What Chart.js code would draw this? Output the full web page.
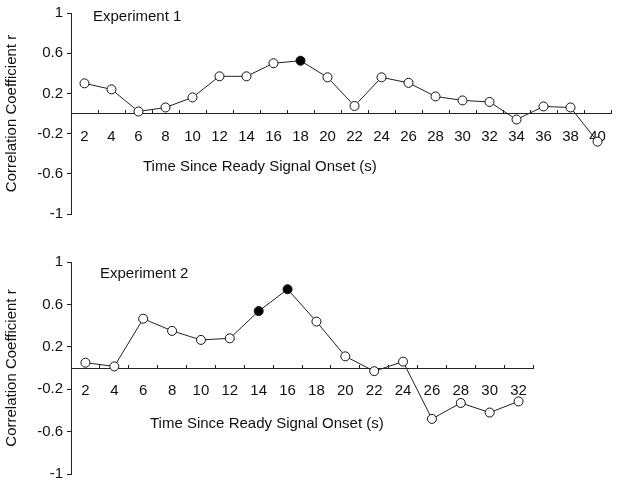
<!DOCTYPE html>
<html lang="en">
<head>
<meta charset="UTF-8">
<title>Correlation Coefficient r - Experiments 1 and 2</title>
<script src="https://cdn.jsdelivr.net/npm/chart.js@4.4.0/dist/chart.umd.min.js"></script>
<style>
  body { margin: 0; background: #fff; }
  #wrap { position: relative; width: 624px; height: 487px; }
  canvas { position: absolute; left: 0; }
</style>
</head>
<body>
<div id="wrap">
  <canvas id="chart1" width="624" height="240" style="top:0"></canvas>
  <canvas id="chart2" width="624" height="247" style="top:240px"></canvas>
</div>
<script>
// data
const exp1Times = ['2','4','6','8','10','12','14','16','18','20','22','24','26','28','30','32','34','36','38','40'];
const exp1R = [0.30, 0.24, 0.02, 0.06, 0.16, 0.37, 0.37, 0.50, 0.525, 0.36, 0.075, 0.36, 0.305, 0.17, 0.13, 0.115, -0.06, 0.07, 0.06, -0.28];
const exp1Filled = ['18'];

const exp2Times = ['2','4','6','8','10','12','14','16','18','20','22','24','26','28','30','32'];
const exp2R = [0.05, 0.015, 0.465, 0.35, 0.265, 0.28, 0.537, 0.743, 0.438, 0.11, -0.03, 0.06, -0.48, -0.33, -0.42, -0.315];
const exp2Filled = ['14','16'];

const yMin = -1, yMax = 1, yStep = 0.4;

const FONT = 'Arial, "Liberation Sans", sans-serif';
const INK = '#111';
const LINE = '#222';

// panel label + x axis title (title sits left of centre in the original)
const panelText = {
  id: 'panelText',
  afterDraw(chart, args, opts) {
    const ctx = chart.ctx;
    const y0 = chart.scales.y.getPixelForValue(0);
    ctx.save();
    ctx.fillStyle = INK;
    ctx.textAlign = 'left';
    ctx.textBaseline = 'middle';
    ctx.font = '15px ' + FONT;
    ctx.fillText(opts.label, opts.labelX, opts.labelY);
    ctx.fillText(opts.xTitle, opts.xTitleX, y0 + opts.xTitleGap);
    ctx.restore();
  }
};

function makePanel(id, times, values, filled, padding, text) {
  const ctx = document.getElementById(id).getContext('2d');
  return new Chart(ctx, {
    type: 'line',
    data: {
      labels: times,
      datasets: [{
        data: values,
        borderColor: LINE,
        borderWidth: 1,
        tension: 0,
        pointRadius: 4.5,
        pointHoverRadius: 4.5,
        pointBorderWidth: 1,
        pointBorderColor: '#111',
        pointBackgroundColor: times.map(t => filled.includes(t) ? '#000' : '#fff')
      }]
    },
    options: {
      responsive: false,
      animation: false,
      layout: { padding: padding },
      plugins: {
        legend: { display: false },
        tooltip: { enabled: false },
        panelText: text
      },
      scales: {
        x: {
          type: 'category',
          position: { y: 0 },
          offset: true,
          grid: { offset: true, drawOnChartArea: false, tickLength: -4, color: LINE },
          border: { color: LINE, width: 1 },
          ticks: { autoSkip: false, maxRotation: 0, padding: 18, color: INK, font: { size: 15, family: FONT } }
        },
        y: {
          min: yMin,
          max: yMax,
          ticks: {
            stepSize: yStep, padding: 4, color: INK, font: { size: 15, family: FONT },
            callback: v => String(Math.round(v * 10) / 10)
          },
          grid: { drawOnChartArea: false, tickLength: 4, color: LINE },
          border: { color: LINE, width: 1 },
          title: { display: true, text: 'Correlation Coefficient r', color: INK, padding: { top: 3, bottom: 0 }, font: { size: 15, family: FONT } },
          afterFit(scale) { scale.width = 71; }
        }
      }
    },
    plugins: [panelText]
  });
}

makePanel('chart1', exp1Times, exp1R, exp1Filled,
  { top: 11, bottom: 26, left: 0, right: 5 },
  { label: 'Experiment 1', labelX: 93, labelY: 17, xTitle: 'Time Since Ready Signal Onset (s)', xTitleX: 143, xTitleGap: 53 });

makePanel('chart2', exp2Times, exp2R, exp2Filled,
  { top: 22, bottom: 9, left: 0, right: 91 },
  { label: 'Experiment 2', labelX: 100, labelY: 34, xTitle: 'Time Since Ready Signal Onset (s)', xTitleX: 150, xTitleGap: 56 });
</script>
</body>
</html>
